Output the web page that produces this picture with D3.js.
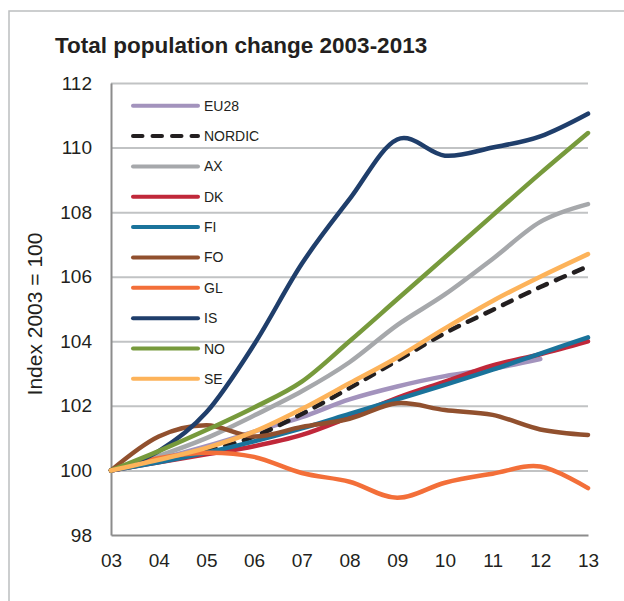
<!DOCTYPE html>
<html>
<head>
<meta charset="utf-8">
<script src="https://cdn.jsdelivr.net/npm/d3@7/dist/d3.min.js"></script>
<style>
  html, body { margin: 0; padding: 0; background: #fff; }
  svg { display: block; font-family: "Liberation Sans", Arial, sans-serif; }
</style>
</head>
<body>
<svg id="chart" width="624" height="601"></svg>
<script>
// Population index (2003 = 100), 2003-2013
const years = ["03", "04", "05", "06", "07", "08", "09", "10", "11", "12", "13"];
const yTicks = [98, 100, 102, 104, 106, 108, 110, 112];

const EU28   = [100, 100.35, 100.75, 101.2, 101.65, 102.2, 102.6, 102.92, 103.15, 103.45];
const NORDIC = [100, 100.27, 100.6, 101.05, 101.75, 102.55, 103.4, 104.25, 104.97, 105.68, 106.32];
const AX     = [100, 100.45, 101.0, 101.7, 102.45, 103.35, 104.5, 105.45, 106.55, 107.7, 108.25];
const DK     = [100, 100.25, 100.5, 100.75, 101.1, 101.65, 102.25, 102.75, 103.25, 103.6, 104.0];
const FI     = [100, 100.25, 100.55, 100.9, 101.3, 101.75, 102.2, 102.65, 103.12, 103.62, 104.12];
const FO     = [100, 101.05, 101.4, 101.05, 101.35, 101.6, 102.08, 101.87, 101.72, 101.27, 101.1];
const GL     = [100, 100.38, 100.55, 100.42, 99.92, 99.65, 99.15, 99.62, 99.9, 100.12, 99.45];
const IS     = [100, 100.6, 101.8, 103.9, 106.4, 108.4, 110.25, 109.75, 110.0, 110.35, 111.05];
const NO     = [100, 100.6, 101.25, 101.95, 102.75, 104.0, 105.3, 106.6, 107.9, 109.2, 110.45];
const SE     = [100, 100.33, 100.7, 101.2, 101.9, 102.7, 103.5, 104.4, 105.25, 106.0, 106.7];

const seriesNames  = ["EU28", "NORDIC", "AX", "DK", "FI", "FO", "GL", "IS", "NO", "SE"];
const seriesValues = [EU28, NORDIC, AX, DK, FI, FO, GL, IS, NO, SE];
const seriesColors = ["#a393bd", "#231f20", "#a6a8ab", "#c0283a", "#1a739b",
                      "#91502e", "#f36f39", "#1f3e6b", "#779a3c", "#fdb35a"];
const seriesDashed = [false, true, false, false, false, false, false, false, false, false];

const series = seriesNames.map((name, i) => ({
  name,
  color: seriesColors[i],
  dashed: seriesDashed[i],
  values: seriesValues[i].map((v, j) => ({ year: years[j], value: v }))
}));

const svg = d3.select("#chart");
const plotLeft = 111, plotRight = 588, plotTop = 83, plotBottom = 535;

const x = d3.scalePoint().domain(years).range([plotLeft, plotRight]);
const y = d3.scaleLinear().domain([98, 112]).range([plotBottom, plotTop]);

const textColor = "#231f20";

// outer frame
svg.append("rect")
  .attr("x", 9).attr("y", 11)
  .attr("width", 700).attr("height", 700)
  .attr("fill", "none")
  .attr("stroke", "#bcbec0")
  .attr("stroke-width", 1.5);

// title
svg.append("text")
  .attr("x", 55).attr("y", 53)
  .attr("font-size", 22.5)
  .attr("font-weight", "bold")
  .attr("fill", textColor)
  .text("Total population change 2003-2013");

// horizontal gridlines
const grid = svg.append("g")
  .attr("transform", `translate(${plotLeft},0)`)
  .call(d3.axisLeft(y).tickValues(yTicks.filter(t => t > 98)).tickSize(-(plotRight - plotLeft)).tickFormat(""));
grid.select(".domain").remove();
grid.selectAll(".tick line").attr("stroke", "#c1c3c4").attr("stroke-width", 2);

// y axis
const yAxis = svg.append("g")
  .attr("transform", `translate(${plotLeft},0)`)
  .call(d3.axisLeft(y).tickValues(yTicks).tickSize(0).tickPadding(19).tickFormat(d3.format("d")));
yAxis.select(".domain").attr("stroke", "#8c8c8c").attr("stroke-width", 2);
yAxis.selectAll(".tick text")
  .attr("font-size", 19)
  .attr("font-family", "Liberation Sans, Arial, sans-serif")
  .attr("fill", textColor);

// x axis
const xAxis = svg.append("g")
  .attr("transform", `translate(0,${plotBottom})`)
  .call(d3.axisBottom(x).tickSize(0).tickPadding(18.5));
xAxis.select(".domain").attr("stroke", "#8c8c8c").attr("stroke-width", 2);
xAxis.selectAll(".tick text")
  .attr("font-size", 19)
  .attr("font-family", "Liberation Sans, Arial, sans-serif")
  .attr("fill", textColor);

// y axis title
svg.append("text")
  .attr("transform", "translate(42,314) rotate(-90)")
  .attr("text-anchor", "middle")
  .attr("font-size", 21)
  .attr("fill", textColor)
  .text("Index 2003 = 100");

// lines
const line = d3.line()
  .x(d => x(d.year))
  .y(d => y(d.value))
  .curve(d3.curveCardinal.tension(0));

svg.append("g")
  .selectAll("path")
  .data(series)
  .join("path")
  .attr("d", d => line(d.values))
  .attr("fill", "none")
  .attr("stroke", d => d.color)
  .attr("stroke-width", 4.5)
  .attr("stroke-linecap", "round")
  .attr("stroke-linejoin", "round")
  .attr("stroke-dasharray", d => d.dashed ? "9.5,10" : null);

// legend
const legend = svg.append("g");
const legendItem = legend.selectAll("g")
  .data(series)
  .join("g")
  .attr("transform", (d, i) => `translate(0,${105.7 + i * 30.35})`);
legendItem.append("line")
  .attr("x1", 133).attr("x2", 198)
  .attr("stroke", d => d.color)
  .attr("stroke-width", 4)
  .attr("stroke-linecap", "round")
  .attr("stroke-dasharray", d => d.dashed ? "9.5,10" : null);
legendItem.append("text")
  .attr("x", 204)
  .attr("y", 5)
  .attr("font-size", 14)
  .attr("fill", textColor)
  .text(d => d.name);
</script>
</body>
</html>
